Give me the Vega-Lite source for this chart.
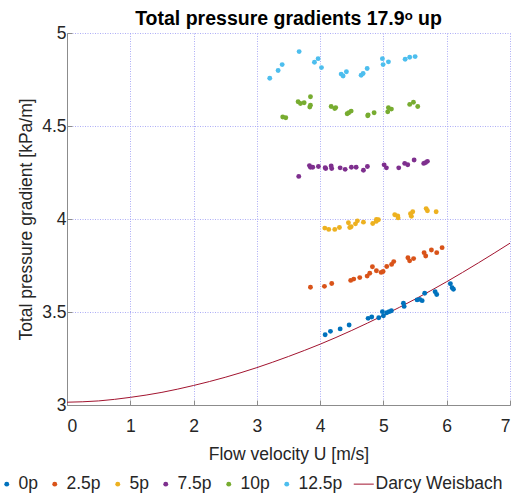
{
  "$schema": "https://vega.github.io/schema/vega-lite/v6.json",
  "autosize": {"type": "none"},
  "width": 443,
  "height": 372,
  "padding": {"left": 67, "top": 33, "right": 3, "bottom": 92},
  "background": "white",
  "config": {
    "font": "Liberation Sans",
    "view": {"stroke": null},
    "axis": {
      "labelFont": "Liberation Sans",
      "titleFont": "Liberation Sans",
      "labelFontSize": 17.5,
      "titleFontSize": 17.5,
      "titleFontWeight": "normal",
      "labelColor": "#262626",
      "titleColor": "#262626",
      "domainColor": "#8c8c8c",
      "domainWidth": 1,
      "tickColor": "#8c8c8c",
      "tickSize": -5,
      "grid": true,
      "gridColor": "#a4a4f5",
      "gridDash": [1, 1.5],
      "gridWidth": 1,
      "gridOpacity": 0.9
    },
    "legend": {
      "labelFont": "Liberation Sans",
      "labelFontSize": 17.5,
      "labelColor": "#262626"
    }
  },
  "title": {
    "text": "Total pressure gradients 17.9ᵒ up",
    "font": "Liberation Sans",
    "fontSize": 19.5,
    "fontWeight": "bold",
    "color": "#000000",
    "anchor": "middle",
    "offset": -5
  },
  "datasets": {
    "measured": [
      {"series": "0p", "U": 4.079, "dp": 3.378},
      {"series": "0p", "U": 4.163, "dp": 3.396},
      {"series": "0p", "U": 4.316, "dp": 3.409},
      {"series": "0p", "U": 4.458, "dp": 3.43},
      {"series": "0p", "U": 4.758, "dp": 3.466},
      {"series": "0p", "U": 4.815, "dp": 3.473},
      {"series": "0p", "U": 4.926, "dp": 3.469},
      {"series": "0p", "U": 4.984, "dp": 3.502},
      {"series": "0p", "U": 5.0, "dp": 3.48},
      {"series": "0p", "U": 5.052, "dp": 3.496},
      {"series": "0p", "U": 5.09, "dp": 3.502},
      {"series": "0p", "U": 5.126, "dp": 3.507},
      {"series": "0p", "U": 5.316, "dp": 3.547},
      {"series": "0p", "U": 5.327, "dp": 3.53},
      {"series": "0p", "U": 5.532, "dp": 3.565},
      {"series": "0p", "U": 5.574, "dp": 3.568},
      {"series": "0p", "U": 5.612, "dp": 3.561},
      {"series": "0p", "U": 5.652, "dp": 3.601},
      {"series": "0p", "U": 5.817, "dp": 3.609},
      {"series": "0p", "U": 5.842, "dp": 3.594},
      {"series": "0p", "U": 6.058, "dp": 3.652},
      {"series": "0p", "U": 6.085, "dp": 3.631},
      {"series": "0p", "U": 6.106, "dp": 3.622},
      {"series": "2.5p", "U": 3.847, "dp": 3.633},
      {"series": "2.5p", "U": 4.068, "dp": 3.638},
      {"series": "2.5p", "U": 4.183, "dp": 3.653},
      {"series": "2.5p", "U": 4.483, "dp": 3.67},
      {"series": "2.5p", "U": 4.531, "dp": 3.677},
      {"series": "2.5p", "U": 4.626, "dp": 3.685},
      {"series": "2.5p", "U": 4.743, "dp": 3.693},
      {"series": "2.5p", "U": 4.784, "dp": 3.708},
      {"series": "2.5p", "U": 4.826, "dp": 3.743},
      {"series": "2.5p", "U": 4.889, "dp": 3.722},
      {"series": "2.5p", "U": 4.964, "dp": 3.713},
      {"series": "2.5p", "U": 4.995, "dp": 3.718},
      {"series": "2.5p", "U": 5.052, "dp": 3.745},
      {"series": "2.5p", "U": 5.129, "dp": 3.756},
      {"series": "2.5p", "U": 5.163, "dp": 3.771},
      {"series": "2.5p", "U": 5.387, "dp": 3.792},
      {"series": "2.5p", "U": 5.414, "dp": 3.775},
      {"series": "2.5p", "U": 5.477, "dp": 3.787},
      {"series": "2.5p", "U": 5.643, "dp": 3.819},
      {"series": "2.5p", "U": 5.668, "dp": 3.801},
      {"series": "2.5p", "U": 5.758, "dp": 3.833},
      {"series": "2.5p", "U": 5.842, "dp": 3.819},
      {"series": "2.5p", "U": 5.927, "dp": 3.846},
      {"series": "5p", "U": 4.073, "dp": 3.951},
      {"series": "5p", "U": 4.136, "dp": 3.944},
      {"series": "5p", "U": 4.231, "dp": 3.944},
      {"series": "5p", "U": 4.305, "dp": 3.954},
      {"series": "5p", "U": 4.447, "dp": 3.98},
      {"series": "5p", "U": 4.468, "dp": 3.954},
      {"series": "5p", "U": 4.49, "dp": 3.958},
      {"series": "5p", "U": 4.558, "dp": 3.974},
      {"series": "5p", "U": 4.589, "dp": 3.99},
      {"series": "5p", "U": 4.684, "dp": 3.983},
      {"series": "5p", "U": 4.831, "dp": 3.976},
      {"series": "5p", "U": 4.885, "dp": 3.987},
      {"series": "5p", "U": 4.889, "dp": 3.997},
      {"series": "5p", "U": 4.921, "dp": 3.996},
      {"series": "5p", "U": 5.179, "dp": 4.023},
      {"series": "5p", "U": 5.226, "dp": 4.017},
      {"series": "5p", "U": 5.232, "dp": 4.006},
      {"series": "5p", "U": 5.427, "dp": 4.028},
      {"series": "5p", "U": 5.463, "dp": 4.039},
      {"series": "5p", "U": 5.442, "dp": 4.015},
      {"series": "5p", "U": 5.675, "dp": 4.056},
      {"series": "5p", "U": 5.695, "dp": 4.044},
      {"series": "5p", "U": 5.833, "dp": 4.039},
      {"series": "7.5p", "U": 3.662, "dp": 4.229},
      {"series": "7.5p", "U": 3.831, "dp": 4.287},
      {"series": "7.5p", "U": 3.847, "dp": 4.278},
      {"series": "7.5p", "U": 3.883, "dp": 4.278},
      {"series": "7.5p", "U": 3.973, "dp": 4.282},
      {"series": "7.5p", "U": 4.079, "dp": 4.276},
      {"series": "7.5p", "U": 4.088, "dp": 4.271},
      {"series": "7.5p", "U": 4.174, "dp": 4.285},
      {"series": "7.5p", "U": 4.183, "dp": 4.271},
      {"series": "7.5p", "U": 4.316, "dp": 4.275},
      {"series": "7.5p", "U": 4.395, "dp": 4.267},
      {"series": "7.5p", "U": 4.494, "dp": 4.278},
      {"series": "7.5p", "U": 4.569, "dp": 4.278},
      {"series": "7.5p", "U": 4.684, "dp": 4.262},
      {"series": "7.5p", "U": 4.747, "dp": 4.282},
      {"series": "7.5p", "U": 5.011, "dp": 4.291},
      {"series": "7.5p", "U": 5.047, "dp": 4.275},
      {"series": "7.5p", "U": 5.242, "dp": 4.275},
      {"series": "7.5p", "U": 5.336, "dp": 4.299},
      {"series": "7.5p", "U": 5.384, "dp": 4.292},
      {"series": "7.5p", "U": 5.485, "dp": 4.317},
      {"series": "7.5p", "U": 5.637, "dp": 4.299},
      {"series": "7.5p", "U": 5.664, "dp": 4.303},
      {"series": "7.5p", "U": 5.695, "dp": 4.31},
      {"series": "10p", "U": 3.409, "dp": 4.548},
      {"series": "10p", "U": 3.457, "dp": 4.544},
      {"series": "10p", "U": 3.652, "dp": 4.63},
      {"series": "10p", "U": 3.689, "dp": 4.621},
      {"series": "10p", "U": 3.747, "dp": 4.625},
      {"series": "10p", "U": 3.847, "dp": 4.657},
      {"series": "10p", "U": 3.847, "dp": 4.612},
      {"series": "10p", "U": 3.836, "dp": 4.602},
      {"series": "10p", "U": 4.174, "dp": 4.605},
      {"series": "10p", "U": 4.231, "dp": 4.594},
      {"series": "10p", "U": 4.246, "dp": 4.599},
      {"series": "10p", "U": 4.427, "dp": 4.566},
      {"series": "10p", "U": 4.452, "dp": 4.571},
      {"series": "10p", "U": 4.49, "dp": 4.58},
      {"series": "10p", "U": 4.752, "dp": 4.555},
      {"series": "10p", "U": 4.758, "dp": 4.56},
      {"series": "10p", "U": 4.853, "dp": 4.571},
      {"series": "10p", "U": 5.068, "dp": 4.576},
      {"series": "10p", "U": 5.079, "dp": 4.598},
      {"series": "10p", "U": 5.126, "dp": 4.591},
      {"series": "10p", "U": 5.415, "dp": 4.616},
      {"series": "10p", "U": 5.474, "dp": 4.628},
      {"series": "10p", "U": 5.542, "dp": 4.605},
      {"series": "12.5p", "U": 3.204, "dp": 4.757},
      {"series": "12.5p", "U": 3.336, "dp": 4.798},
      {"series": "12.5p", "U": 3.4, "dp": 4.83},
      {"series": "12.5p", "U": 3.668, "dp": 4.9},
      {"series": "12.5p", "U": 3.91, "dp": 4.843},
      {"series": "12.5p", "U": 3.968, "dp": 4.862},
      {"series": "12.5p", "U": 4.021, "dp": 4.814},
      {"series": "12.5p", "U": 4.332, "dp": 4.779},
      {"series": "12.5p", "U": 4.363, "dp": 4.769},
      {"series": "12.5p", "U": 4.415, "dp": 4.792},
      {"series": "12.5p", "U": 4.648, "dp": 4.773},
      {"series": "12.5p", "U": 4.679, "dp": 4.782},
      {"series": "12.5p", "U": 4.743, "dp": 4.809},
      {"series": "12.5p", "U": 4.984, "dp": 4.862},
      {"series": "12.5p", "U": 4.995, "dp": 4.83},
      {"series": "12.5p", "U": 5.079, "dp": 4.845},
      {"series": "12.5p", "U": 5.343, "dp": 4.859},
      {"series": "12.5p", "U": 5.415, "dp": 4.87},
      {"series": "12.5p", "U": 5.501, "dp": 4.873}
    ],
    "darcy": [
      {"series": "Darcy Weisbach", "U": 0.0, "dp": 3.015},
      {"series": "Darcy Weisbach", "U": 0.5, "dp": 3.022},
      {"series": "Darcy Weisbach", "U": 1.0, "dp": 3.041},
      {"series": "Darcy Weisbach", "U": 1.5, "dp": 3.068},
      {"series": "Darcy Weisbach", "U": 2.0, "dp": 3.105},
      {"series": "Darcy Weisbach", "U": 2.5, "dp": 3.149},
      {"series": "Darcy Weisbach", "U": 3.0, "dp": 3.201},
      {"series": "Darcy Weisbach", "U": 3.5, "dp": 3.261},
      {"series": "Darcy Weisbach", "U": 4.0, "dp": 3.327},
      {"series": "Darcy Weisbach", "U": 4.5, "dp": 3.401},
      {"series": "Darcy Weisbach", "U": 5.0, "dp": 3.482},
      {"series": "Darcy Weisbach", "U": 5.5, "dp": 3.569},
      {"series": "Darcy Weisbach", "U": 6.0, "dp": 3.663},
      {"series": "Darcy Weisbach", "U": 6.5, "dp": 3.764},
      {"series": "Darcy Weisbach", "U": 7.0, "dp": 3.87}
    ]
  },
  "encoding": {
    "x": {
      "field": "U",
      "type": "quantitative",
      "scale": {"domain": [0, 7], "nice": false},
      "axis": {
        "title": "Flow velocity U [m/s]",
        "values": [0, 1, 2, 3, 4, 5, 6, 7],
        "format": "~g",
        "labelPadding": 17,
        "titlePadding": 11
      }
    },
    "y": {
      "field": "dp",
      "type": "quantitative",
      "scale": {"domain": [3, 5], "nice": false},
      "axis": {
        "title": "Total pressure gradient [kPa/m]",
        "values": [3, 3.5, 4, 4.5, 5],
        "format": "~g",
        "labelPadding": 6,
        "titlePadding": 6
      }
    },
    "color": {
      "field": "series",
      "type": "nominal",
      "scale": {
        "domain": ["0p", "2.5p", "5p", "7.5p", "10p", "12.5p", "Darcy Weisbach"],
        "range": ["#0072BD", "#D95319", "#EDB120", "#7E2F8E", "#77AC30", "#4DBEEE", "#A2142F"]
      },
      "legend": {
        "title": null,
        "orient": "none",
        "direction": "horizontal",
        "legendX": -69,
        "legendY": 442,
        "padding": 0,
        "symbolSize": 400,
        "symbolType": "circle",
        "labelOffset": 3,
        "columnPadding": 8,
        "encode": {
          "symbols": {
            "update": {
              "shape": {"signal": "datum.value === 'Darcy Weisbach' ? 'stroke' : 'circle'"},
              "size": {"signal": "datum.value === 'Darcy Weisbach' ? 400 : 24"},
              "fill": {"scale": "color", "field": "value"},
              "stroke": {"scale": "color", "field": "value"},
              "strokeWidth": {"signal": "datum.value === 'Darcy Weisbach' ? 1 : 0"},
              "opacity": {"value": 1}
            }
          }
        }
      }
    }
  },
  "layer": [
    {
      "data": {"name": "darcy"},
      "mark": {"type": "line", "strokeWidth": 1, "interpolate": "monotone"}
    },
    {
      "data": {"name": "measured"},
      "mark": {"type": "circle", "size": 24, "opacity": 1}
    }
  ]
}
